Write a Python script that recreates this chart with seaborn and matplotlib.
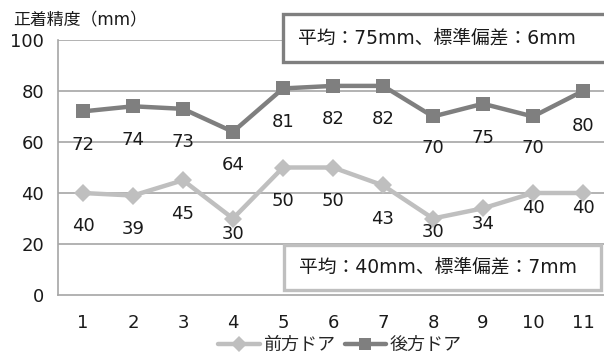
import matplotlib
matplotlib.use("Agg")
import matplotlib.pyplot as plt
from matplotlib.lines import Line2D
from matplotlib.patches import Rectangle
import numpy as np
import pandas as pd
import seaborn as sns

sns.set_theme(style="white")
plt.rcParams['font.family'] = ['DejaVu Sans', 'Noto Sans CJK JP']

# Door positions and measured values
positions = ["1", "2", "3", "4", "5", "6", "7", "8", "9", "10", "11"]
front_door = [40, 39, 45, 30, 50, 50, 43, 30, 34, 40, 40]
rear_door = [72, 74, 73, 64, 81, 82, 82, 70, 75, 70, 80]
series_names = ["前方ドア", "後方ドア"]
y_ticks = [0, 20, 40, 60, 80, 100]
rear_note = "平均：75mm、標準偏差：6mm"
front_note = "平均：40mm、標準偏差：7mm"
axis_title = "正着精度（mm）"

# Vertical offset (points) of each value label below its marker
front_label_drop = [24, 24, 24, 11, 24, 24, 24, 10, 11, 11, 11]
rear_label_drop = [24, 24, 24, 24, 24, 24, 24, 23, 25, 23, 25]

colors = {"前方ドア": "#BFBFBF", "後方ドア": "#7F7F7F"}
markers = {"前方ドア": "D", "後方ドア": "s"}
marker_sizes = {"前方ドア": 9, "後方ドア": 10}
drops = {"前方ドア": front_label_drop, "後方ドア": rear_label_drop}

idx = np.arange(1, len(positions) + 1)
df = pd.DataFrame({
    "x": np.concatenate([idx, idx]),
    "value": front_door + rear_door,
    "series": [series_names[0]] * len(idx) + [series_names[1]] * len(idx),
})

fig = plt.figure(figsize=(6.04, 3.53), dpi=100)
ax = fig.add_axes([58 / 604, 1 - 295 / 353, 550 / 604, 255 / 353])

# Gridlines beneath the data
for t in y_ticks[1:]:
    ax.axhline(t, color="#A6A6A6", lw=1.2, zorder=0)

for name in series_names:
    sub = df[df["series"] == name]
    sns.lineplot(data=sub, x="x", y="value", ax=ax, color=colors[name],
                 lw=3.2, marker=markers[name], markersize=marker_sizes[name],
                 markeredgewidth=0, sort=False, legend=False, zorder=3)
    for xv, yv, dy in zip(sub["x"], sub["value"], drops[name]):
        ax.annotate(str(yv), (xv, yv), xytext=(0, -dy), textcoords="offset points",
                    ha="center", va="center", fontsize=13, color="#1a1a1a", zorder=4)

ax.set_xlim(0.5, len(positions) + 0.5)
ax.set_ylim(0, 100)
ax.set_xticks(idx)
ax.set_xticklabels(positions, fontsize=13)
ax.set_xticks(np.arange(0.5, len(positions) + 0.5, 1.0), minor=True)
ax.tick_params(axis="x", which="major", length=0, pad=14, colors="#1a1a1a")
ax.tick_params(axis="x", which="minor", length=5, width=1.2, color="#A6A6A6", direction="out")
ax.set_yticks(y_ticks)
ax.set_yticklabels([str(t) for t in y_ticks], fontsize=13)
ax.tick_params(axis="y", length=5, width=1.2, direction="out", pad=5, colors="#1a1a1a")
for tk in ax.yaxis.get_major_ticks():
    tk.tick1line.set_color("#A6A6A6")
for tk in ax.xaxis.get_minor_ticks():
    tk.tick1line.set_color("#A6A6A6")
ax.set_xlabel("")
ax.set_ylabel("")
for side in ["top", "right"]:
    ax.spines[side].set_visible(False)
for side in ["left", "bottom"]:
    ax.spines[side].set_color("#A6A6A6")
    ax.spines[side].set_linewidth(1.2)

fig.text(13 / 604, 1 - 20 / 353, axis_title, fontsize=12.2, ha="left", va="center", color="#1a1a1a")

# Summary boxes
def note_box(x0, y0, x1, y1, edge, text):
    fig.patches.append(Rectangle((x0 / 604, 1 - y1 / 353), (x1 - x0) / 604, (y1 - y0) / 353,
                                 transform=fig.transFigure, facecolor="white",
                                 edgecolor=edge, lw=2.4, zorder=5))
    fig.text((x0 + 15) / 604, 1 - (y0 + y1) / 2 / 353, text, fontsize=13.5,
             ha="left", va="center", color="#1a1a1a", zorder=6)

note_box(283, 14, 610, 62, "#7F7F7F", rear_note)
note_box(284, 245, 601, 290, "#BFBFBF", front_note)

handles = [Line2D([], [], color=colors[n], lw=3.2, marker=markers[n],
                  markersize=8, markeredgewidth=0) for n in series_names]
fig.legend(handles, series_names, loc="center", bbox_to_anchor=(340 / 604, 1 - 345 / 353),
           ncol=2, frameon=False, fontsize=13, handlelength=2.3, handletextpad=0.2,
           columnspacing=0.5, borderpad=0)

fig.savefig("out.png", dpi=100)
